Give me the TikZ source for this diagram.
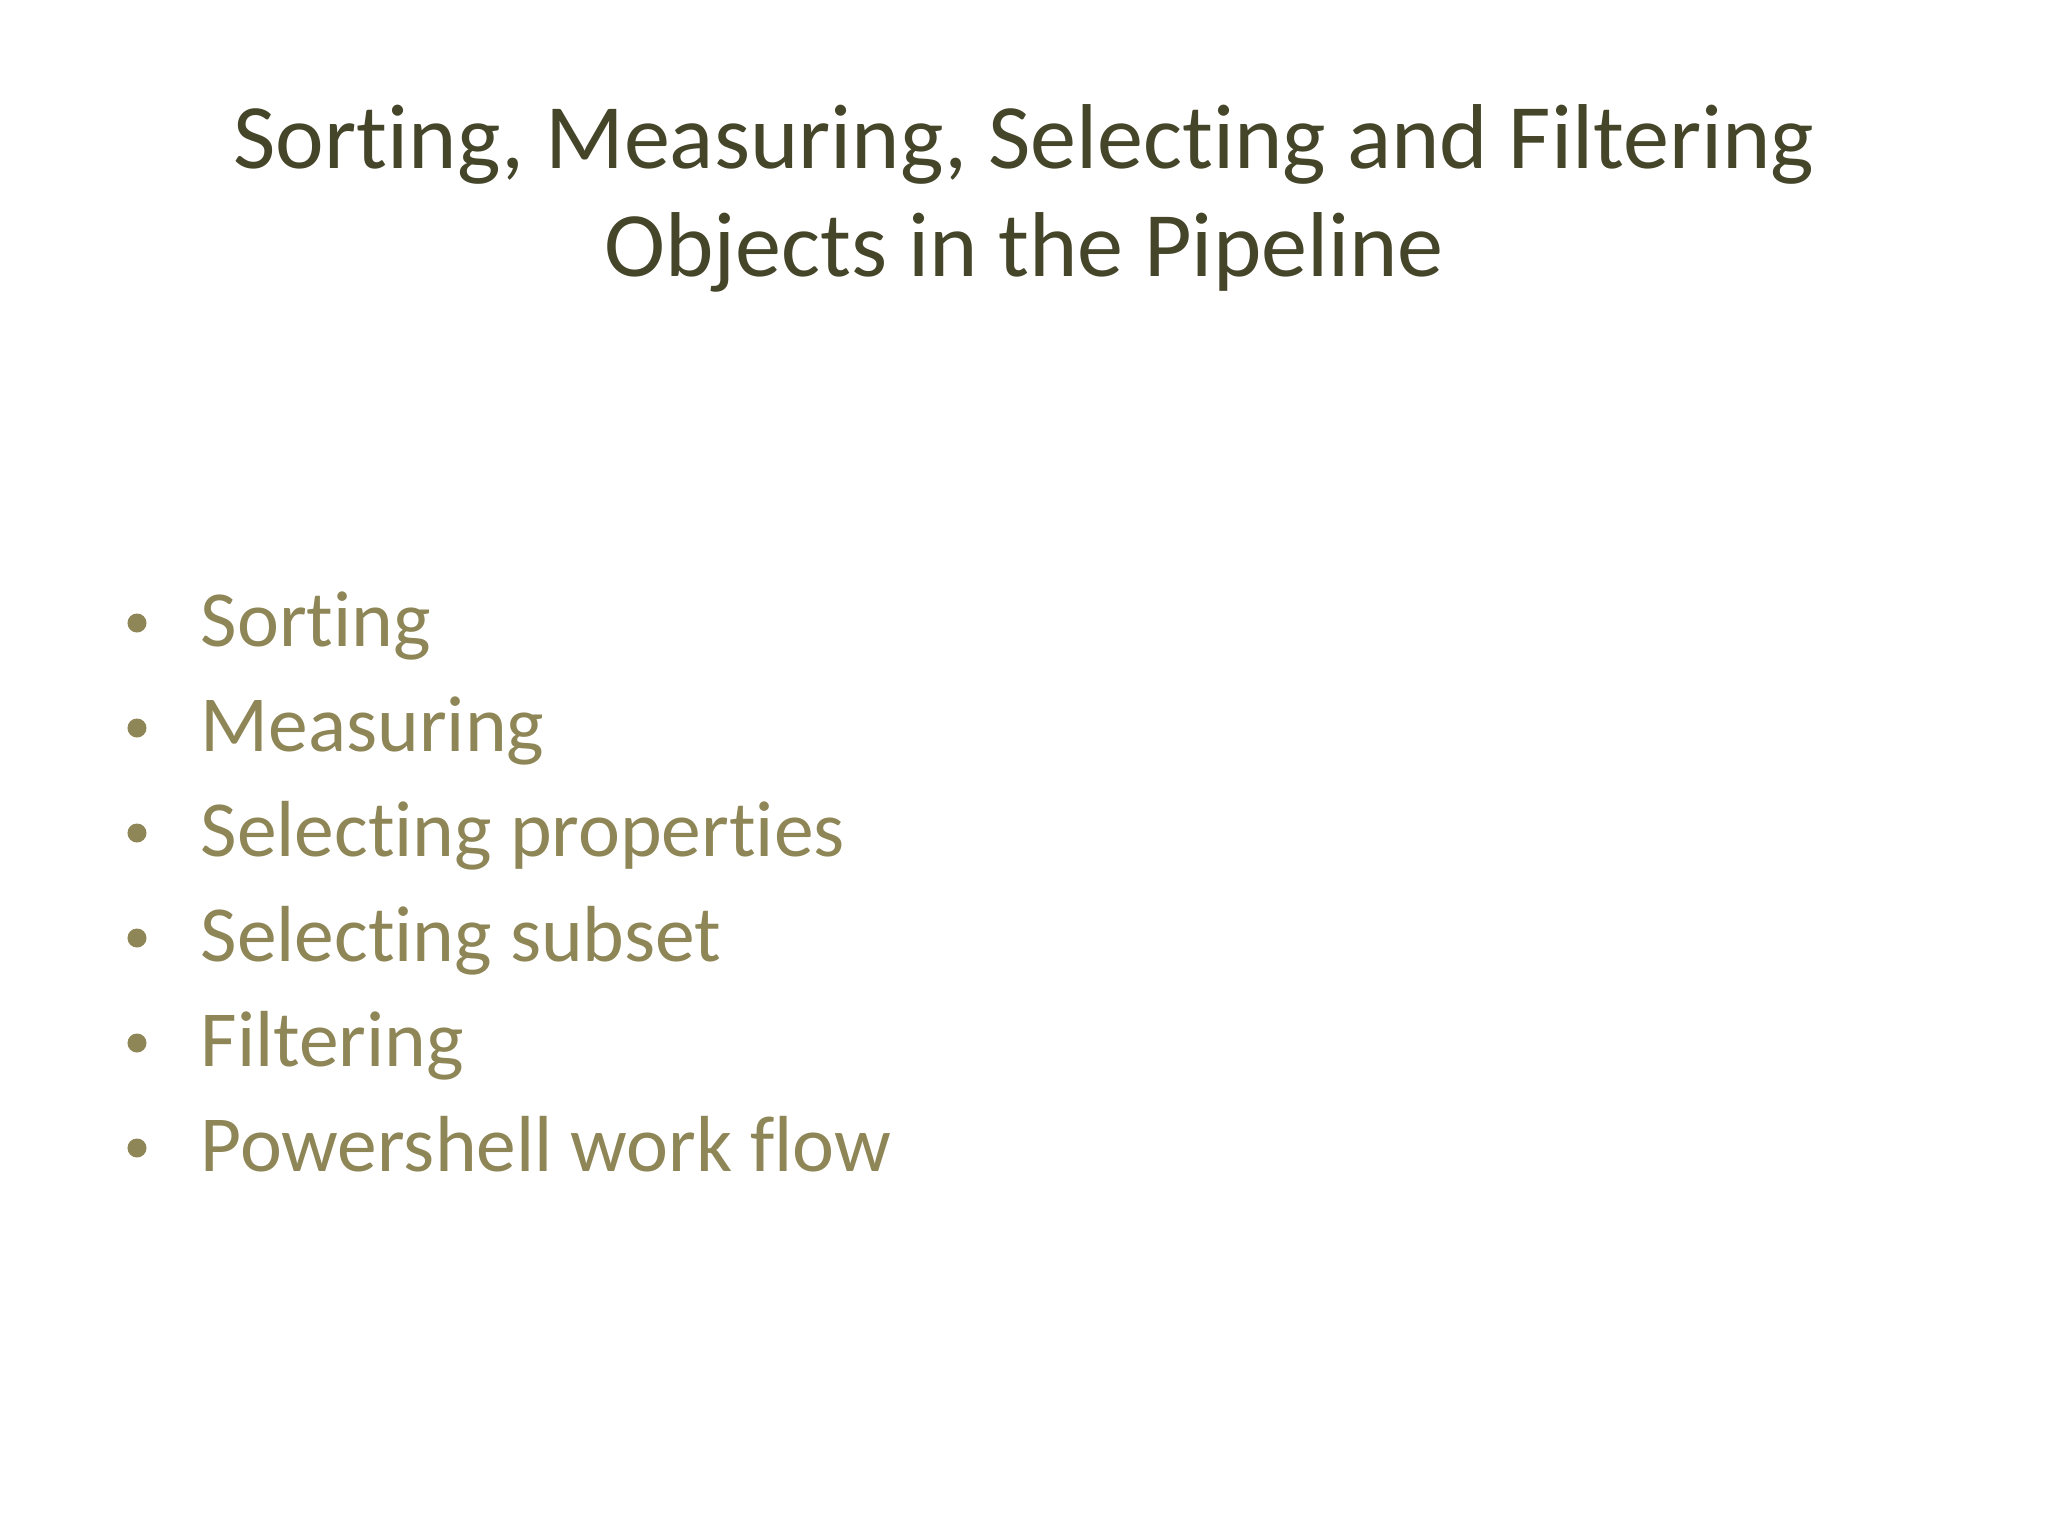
\documentclass[tikz,border=0pt]{standalone}
\usepackage{fontspec}
\setmainfont{Carlito}[Ligatures={NoCommon,NoRare}]
\definecolor{titlec}{HTML}{45452A}
\definecolor{bulc}{HTML}{8E8656}
\begin{document}
\begin{tikzpicture}[x=0.01cm,y=-0.01cm,
  ttl/.style={anchor=base,text=titlec,font=\fontsize{26.2}{31}\selectfont,inner sep=0},
  itm/.style={anchor=base west,text=bulc,font=\fontsize{22.6}{27}\selectfont,inner sep=0},
  dot/.style={circle,fill=bulc,inner sep=0,minimum size=0.19cm}]
\useasboundingbox[fill=white] (0,0) rectangle (2048,1536);
\node[ttl] (t1) at (1024,168) {Sorting, Measuring, Selecting and Filtering};
\node[ttl] (t2) at (1024,276) {Objects in the Pipeline};
\foreach \i/\t in {0/Sorting,1/Measuring,2/Selecting properties,3/Selecting subset,4/Filtering,5/Powershell work flow}{
  \node[itm] (b\i) at (200,{646+105*\i}) {\t};
  \node[dot] (d\i) at (137,{646+105*\i-23}) {};
}
\end{tikzpicture}
\end{document}
